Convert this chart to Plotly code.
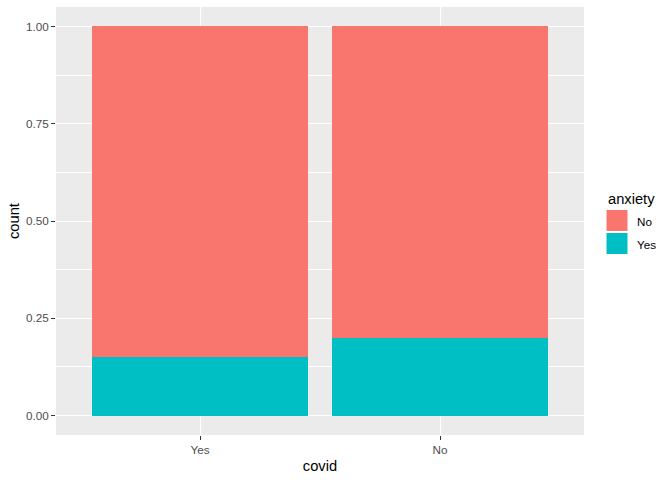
import plotly.graph_objects as go

covid = ["Yes", "No"]
anxiety_levels = ["No", "Yes"]
prop_yes = [0.15, 0.20]
prop_no = [0.85, 0.80]
y_ticks = [0.0, 0.25, 0.5, 0.75, 1.0]
y_tick_labels = ["0.00", "0.25", "0.50", "0.75", "1.00"]

colors = {"No": "#F8766D", "Yes": "#00BFC4"}

W, H = 672, 480
L, R, T, B = 56, 88, 7, 45
pw, ph = W - L - R, H - T - B

def xp(px):
    return (px - L) / pw

def yp(py):
    return (H - B - py) / ph

fig = go.Figure()
fig.add_trace(go.Bar(x=covid, y=prop_yes, name="Yes", marker=dict(color=colors["Yes"], line=dict(width=0)),
                     width=0.9, showlegend=False))
fig.add_trace(go.Bar(x=covid, y=prop_no, name="No", marker=dict(color=colors["No"], line=dict(width=0)),
                     width=0.9, showlegend=False))

font_family = "Liberation Sans, Arial, sans-serif"

fig.update_layout(
    width=W, height=H,
    margin=dict(l=L, r=R, t=T, b=B, pad=0, autoexpand=False),
    barmode="stack",
    paper_bgcolor="white",
    plot_bgcolor="#EBEBEB",
    font=dict(family=font_family, color="black"),
    showlegend=False,
    xaxis=dict(
        type="category", range=[-0.6, 1.6], automargin=False,
        showgrid=True, gridcolor="white", gridwidth=1.1,
        ticks="outside", ticklen=4, tickcolor="#333333", tickwidth=1.1,
        tickfont=dict(size=11.7, color="#4D4D4D"),
        title=dict(text="covid", font=dict(size=14.7, color="black"), standoff=5),
        zeroline=False, showline=False,
    ),
    yaxis=dict(
        range=[-0.05, 1.05], automargin=False,
        tickvals=y_ticks, ticktext=y_tick_labels,
        showgrid=True, gridcolor="white", gridwidth=1.1,
        minor=dict(tickvals=[0.125, 0.375, 0.625, 0.875], showgrid=True, gridcolor="white", gridwidth=0.55, ticks=""),
        ticks="outside", ticklen=4, tickcolor="#333333", tickwidth=1.1,
        tickfont=dict(size=11.7, color="#4D4D4D"),
        title=dict(text="count", font=dict(size=14.7, color="black"), standoff=2),
        zeroline=False, showline=False,
    ),
)

# Manual ggplot-style legend
shapes = []
annotations = [dict(text="anxiety", xref="paper", yref="paper", x=xp(606), y=yp(199),
                    xanchor="left", yanchor="middle", showarrow=False,
                    font=dict(size=14.7, color="black", family=font_family))]
key_tops = [209.5, 232.5]
for lvl, top in zip(anxiety_levels, key_tops):
    shapes.append(dict(type="rect", xref="paper", yref="paper",
                       x0=xp(606), x1=xp(628), y0=yp(top + 22), y1=yp(top),
                       fillcolor=colors[lvl], line=dict(width=1, color="white")))
    annotations.append(dict(text=lvl, xref="paper", yref="paper", x=xp(635), y=yp(top + 11.5),
                            xanchor="left", yanchor="middle", showarrow=False,
                            font=dict(size=11.7, color="black", family=font_family)))
fig.update_layout(shapes=shapes, annotations=annotations)

fig.write_html("out.html", config={"displayModeBar": False},
               post_script="document.body.style.margin='0';document.body.style.padding='0';")
